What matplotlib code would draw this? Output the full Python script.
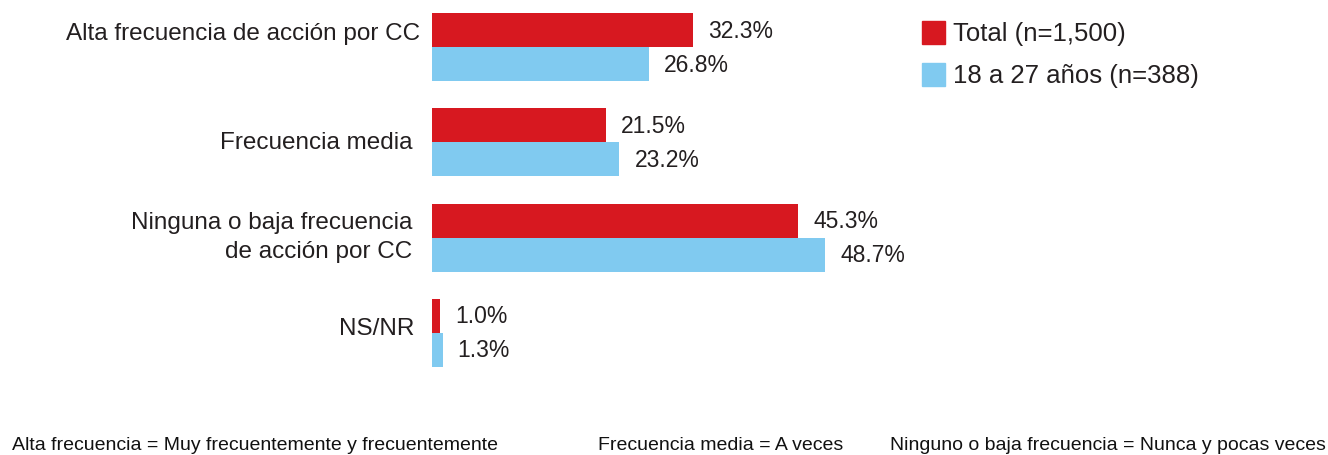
import matplotlib
matplotlib.use("Agg")
import matplotlib.pyplot as plt
from matplotlib.patches import Rectangle

categories = ["Alta frecuencia de acción por CC", "Frecuencia media",
              "Ninguna o baja frecuencia\nde acción por CC", "NS/NR"]
total_vals = [32.3, 21.5, 45.3, 1.0]
young_vals = [26.8, 23.2, 48.7, 1.3]
series_names = ["Total (n=1,500)", "18 a 27 años (n=388)"]
footnotes = ["Alta frecuencia = Muy frecuentemente y frecuentemente",
             "Frecuencia media = A veces",
             "Ninguno o baja frecuencia = Nunca y pocas veces"]

RED = "#D71820"
BLUE = "#80CAF0"
TXT = "#231F20"

W, H = 1328, 456
fig = plt.figure(figsize=(W / 100, H / 100), dpi=100)
plt.rcParams['font.family'] = ['Liberation Sans', 'DejaVu Sans']

# axes spanning pixels x 432..1300, y 0..400
left_px, right_px = 432, 1300
top_px, bot_px = 0, 400
ax = fig.add_axes([left_px / W, 1 - bot_px / H, (right_px - left_px) / W, (bot_px - top_px) / H])
pxper = 8.08
ax.set_xlim(0, (right_px - left_px) / pxper)
spacing = 95.3
ax.set_ylim((bot_px - 48) / spacing, -48 / spacing)
ax.axis("off")

label_dx = [-12, -20, -20, -18]      # label right-edge offsets (px)
label_dy = [-14, 0, -1, -5]          # label vertical offsets (px)
h = 34 / spacing
for i in range(len(categories)):
    ax.barh(i - h / 2, total_vals[i], height=h, color=RED)
    ax.barh(i + h / 2, young_vals[i], height=h, color=BLUE)
    ax.text(total_vals[i] + 15 / pxper, i - h / 2, f"{total_vals[i]:.1f}%", va="center", ha="left",
            fontsize=16.5, color=TXT)
    ax.text(young_vals[i] + 15 / pxper, i + h / 2, f"{young_vals[i]:.1f}%", va="center", ha="left",
            fontsize=16.5, color=TXT)
    ax.text(label_dx[i] / pxper, i + label_dy[i] / spacing, categories[i], va="center", ha="right",
            fontsize=17.5, color=TXT, linespacing=1.45)

# legend
for j, (name, col) in enumerate(zip(series_names, [RED, BLUE])):
    y0 = 22 + j * 42
    fig.patches.append(Rectangle((922 / W, 1 - (y0 + 23) / H), 23 / W, 23 / H,
                                 transform=fig.transFigure, color=col))
    fig.text(953 / W, 1 - (y0 + 12) / H, name, va="center", ha="left", fontsize=18.5, color=TXT)

# footnotes
fx = [12, 598, 890]
for x, t in zip(fx, footnotes):
    fig.text(x / W, 1 - 450 / H, t, va="baseline", ha="left", fontsize=14, color="#111111")

fig.savefig("out.png", dpi=100)
